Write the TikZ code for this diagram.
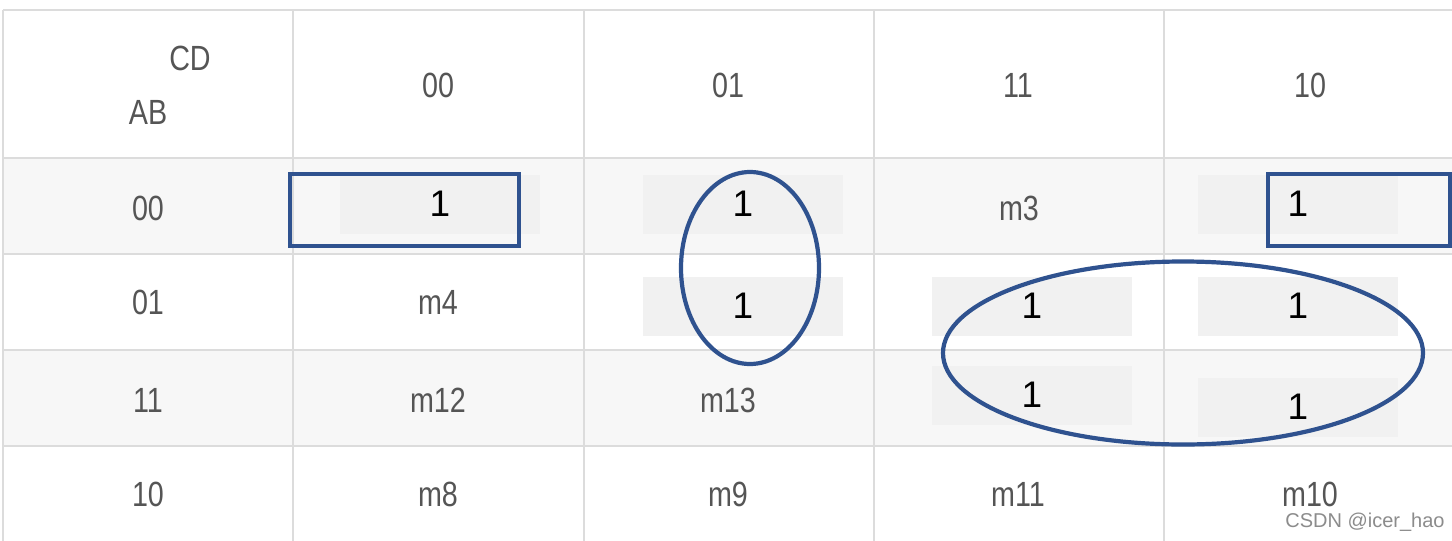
\documentclass[tikz,border=0pt]{standalone}
\usepackage{fontspec}
\setmainfont{Liberation Sans}
\newfontfamily\narrowsans[FakeStretch=0.82]{Liberation Sans}
\usetikzlibrary{shapes.geometric, positioning}

\definecolor{gridgrey}{HTML}{DCDCDC}
\definecolor{rowgrey}{HTML}{F7F7F7}
\definecolor{cellgrey}{HTML}{F1F1F1}
\definecolor{labelgrey}{HTML}{555555}
\definecolor{markgrey}{HTML}{8C8C8C}
\definecolor{loopblue}{HTML}{2F528F}

\begin{document}
\begin{tikzpicture}[x=0.5pt, y=-0.5pt,
	gridline/.style={gridgrey, line width=1pt},
	mtext/.style={text=labelgrey, inner sep=0pt,
		font=\narrowsans\fontsize{17.5}{19}\selectfont},
	onecell/.style={fill=cellgrey, inner sep=0pt, minimum width=100pt,
		minimum height=29.5pt, font=\fontsize{18.5}{20}\selectfont},
	loopbox/.style={draw=loopblue, line width=2.1pt, inner sep=0pt},
	loopring/.style={loopbox, ellipse}]
	\useasboundingbox (0,0) rectangle (1452,541);
	\fill[white] (0,0) rectangle (1452,541);

	% shaded rows
	\fill[rowgrey] (3,158) rectangle (1452,254);
	\fill[rowgrey] (3,350) rectangle (1452,446);

	% grid
	\foreach \y in {10,158,254,350,446}
		\draw[gridline] (3,\y) -- (1452,\y);
	\foreach \x in {3,293,584,874,1164}
		\draw[gridline] (\x,10) -- (\x,541);

	% corner
	\node[mtext] (cd) at (190,58) {CD};
	\node[mtext] (ab) at (148,112) {AB};

	% column and row heads
	\foreach \nm/\cx in {00/438, 01/728, 11/1018, 10/1310}
		\node[mtext] (col\nm) at (\cx,85) {\nm};
	\foreach \nm/\cy in {00/208, 01/302, 11/400, 10/494}
		\node[mtext] (row\nm) at (148,\cy) {\nm};

	% minterms
	\foreach \nm/\cx/\cy in {3/1019/208, 4/438/302, 12/438/400, 13/728/400,
		8/438/494, 9/728/494, 11/1018/494, 10/1310/494}
		\node[mtext] (m\nm) at (\cx,\cy) {m\nm};

	% ones
	\foreach \nm/\cx/\cy in {0/440/204, 1/743/204, 2/1298/204,
		5/743/306, 7/1032/306, 6/1298/306, 15/1032/395, 14/1298/407}
		\node[onecell] (one\nm) at (\cx,\cy) {1};

	% groups
	\node[loopbox, minimum width=114.5pt, minimum height=36pt] (quadL) at (404.5,210) {};
	\node[loopbox, minimum width=91pt, minimum height=36pt] (quadR) at (1359,210) {};
	\node[loopring, minimum width=69pt, minimum height=96pt] (pairV) at (750,268) {};
	\node[loopring, minimum width=240pt, minimum height=91.5pt] (quadC) at (1183,353) {};

	\node[text=markgrey, inner sep=0pt, font=\fontsize{10}{12}\selectfont]
		(mark) at (1365,522) {CSDN @icer\_hao};
\end{tikzpicture}
\end{document}
